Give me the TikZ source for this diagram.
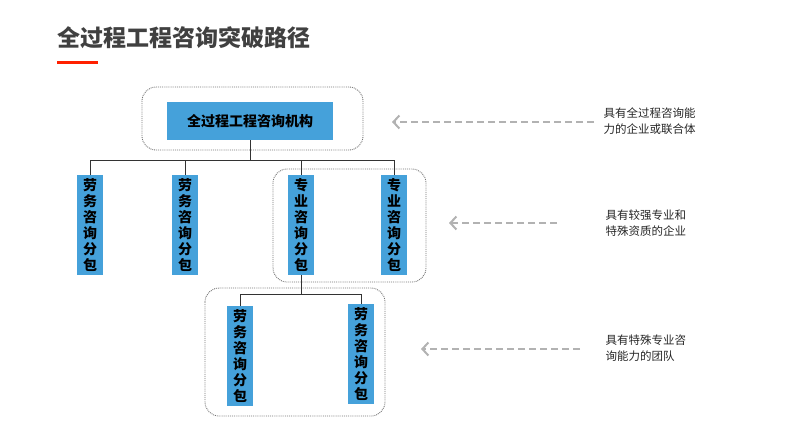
\documentclass[tikz,border=0pt]{standalone}
\usepackage{fontspec}
\usetikzlibrary{arrows.meta}
\setmainfont{Noto Sans CJK SC}
\definecolor{boxblue}{HTML}{45A1DA}
\begin{document}
\begin{tikzpicture}[x=1pt,y=-1pt,
  blue/.style={draw=none,fill=boxblue,inner sep=0pt,font=\fontsize{14}{16}\selectfont\bfseries,align=center},
  vbox/.style={blue,minimum width=26pt,minimum height=100pt},
  grp/.style={draw=black!55,densely dotted,rounded corners=14pt,line width=0.9pt},
  conn/.style={draw=black!80,line width=0.9pt},
  darr/.style={draw=gray!60,line width=2pt,dash pattern=on 7pt off 4pt,-{Straight Barb[length=6pt,width=13pt,sep=0pt]}},
  lab/.style={font=\fontsize{11.5}{16}\selectfont,align=left,anchor=west,text=black!85}]
\useasboundingbox (0,0) rectangle (800,445);
\node[anchor=west,font=\fontsize{23}{25}\selectfont\bfseries,text=black!75] (title) at (54,38) {全过程工程咨询突破路径};
\fill[red!75!orange] (57,60.5) rectangle (98,63.5);
\draw[grp] (142,87) rectangle (363,150);
\node[blue,minimum width=166pt,minimum height=38pt] (top) at (250,121) {全过程工程咨询机构};
\node[vbox] (b1) at (90,225) {劳\\务\\咨\\询\\分\\包};
\node[vbox] (b2) at (185,225) {劳\\务\\咨\\询\\分\\包};
\node[vbox] (b3) at (301,225) {专\\业\\咨\\询\\分\\包};
\node[vbox] (b4) at (394,225) {专\\业\\咨\\询\\分\\包};
\draw[grp] (273,169) rectangle (426,282);
\draw[grp] (205,288) rectangle (385,416);
\node[vbox] (c1) at (240,356) {劳\\务\\咨\\询\\分\\包};
\node[vbox] (c2) at (361,354) {劳\\务\\咨\\询\\分\\包};
\coordinate (bus) at (250,160);
\draw[conn] (top.south) -- (bus);
\draw[conn] (b1.north) -- (b1.north |- bus) -- (b4.north |- bus) -- (b4.north);
\draw[conn] (b2.north) -- (b2.north |- bus);
\draw[conn] (b3.north |- bus) -- (b3.north);
\coordinate (bus2) at (301,294);
\draw[conn] (b3.south) -- (bus2);
\draw[conn] (c1.north) -- (c1.north |- bus2) -- (c2.north |- bus2) -- (c2.north);
\node[lab] (t1) at (600,121) {具有全过程咨询能\\力的企业或联合体};
\node[lab] (t2) at (602,223) {具有较强专业和\\特殊资质的企业};
\node[lab] (t3) at (602,348) {具有特殊专业咨\\询能力的团队};
\coordinate (e1) at (392,122);
\coordinate (e2) at (449,223);
\coordinate (e3) at (421,349);
\draw[darr] (594,122) -- (e1);
\draw[darr] (557,223) -- (e2);
\draw[darr] (580,349) -- (e3);
\end{tikzpicture}
\end{document}
